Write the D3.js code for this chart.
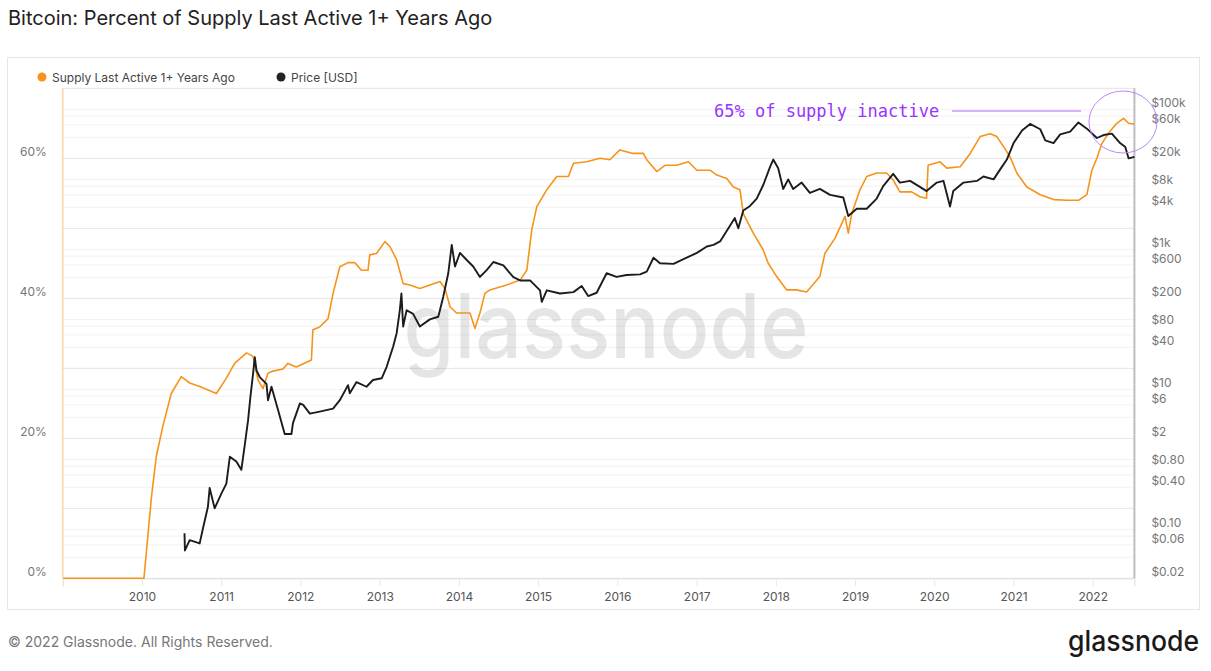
<!DOCTYPE html>
<html>
<head>
<meta charset="utf-8">
<script src="https://cdn.jsdelivr.net/npm/d3@7"></script>
<style>
  body { margin: 0; background: #fff; }
</style>
</head>
<body>
<div id="chart"></div>
<script>
// supply last active 1+ years ago, %
var supply_dates = ["2009-01-03","2010-01-10","2010-02-14","2010-03-08","2010-04-07","2010-05-16","2010-07-01","2010-08-09","2010-09-24","2010-12-10",
  "2011-01-25","2011-03-04","2011-04-28","2011-05-28","2011-06-20","2011-07-13","2011-08-05","2011-08-28","2011-10-13","2011-11-05","2011-12-13",
  "2012-02-21","2012-02-28","2012-03-30","2012-05-08","2012-05-31","2012-07-01","2012-08-08","2012-09-08","2012-10-09","2012-11-08","2012-11-16","2012-12-17",
  "2013-01-25","2013-02-17","2013-03-20","2013-04-19","2013-05-20","2013-07-05","2013-10-06","2013-10-29","2013-11-21","2013-12-21",
  "2014-02-21","2014-03-16","2014-04-08","2014-05-01","2014-05-24","2014-08-09","2014-10-10","2014-11-10","2014-12-03","2014-12-26",
  "2015-02-10","2015-03-28","2015-05-21","2015-06-13","2015-08-13","2015-10-13","2015-11-28",
  "2016-01-13","2016-03-14","2016-04-30","2016-05-16","2016-07-01","2016-08-08","2016-10-01","2016-11-24",
  "2017-01-02","2017-03-04","2017-04-04","2017-05-20","2017-06-19","2017-07-20","2017-08-04","2017-09-19","2017-11-04","2017-11-27",
  "2018-01-05","2018-02-20","2018-04-07","2018-05-23","2018-07-23","2018-08-15","2018-10-01","2018-11-16","2018-12-01","2018-12-17",
  "2019-01-24","2019-02-24","2019-04-11","2019-05-27","2019-06-26","2019-07-27","2019-09-19","2019-10-27","2019-11-27","2019-12-04",
  "2020-01-28","2020-02-28","2020-04-30","2020-06-15","2020-07-31","2020-09-15","2020-10-16","2020-11-15","2020-12-16",
  "2021-01-16","2021-03-03","2021-05-04","2021-07-04","2021-09-04","2021-10-27","2021-12-05","2021-12-28",
  "2022-01-20","2022-02-12","2022-03-15","2022-04-22","2022-05-23","2022-06-15","2022-07-11"];
var supply_values = [0,0,11.7,17.4,21.7,26.4,28.8,27.9,27.4,26.4,
  28.6,30.7,32.2,31.7,28.3,27.1,29.3,29.6,29.9,30.7,30.2,
  31.2,35.5,35.9,37.1,40.7,44.5,45.1,45.1,44.0,44.0,46.2,46.4,
  48.1,47.4,45.5,42.1,41.9,41.4,42.4,41.4,38.8,37.9,
  37.9,35.7,37.9,40.7,41.2,41.9,42.6,44.0,49.8,53.1,
  55.5,57.4,57.4,59.3,59.5,60.0,59.8,
  61.2,60.7,60.7,59.8,58.1,59.0,59.0,59.5,
  58.3,58.3,57.6,57.1,55.9,55.5,52.1,49.3,46.9,45.0,
  43.1,41.2,41.2,40.9,43.1,46.4,48.6,51.7,49.3,52.1,
  55.5,57.4,57.9,57.9,56.9,55.2,55.2,54.5,54.3,59.0,
  59.5,58.6,58.8,60.7,63.1,63.5,63.1,61.7,60.2,
  57.9,55.9,54.8,54.1,54.0,54.0,54.8,58.3,
  60.0,62.1,63.6,65.0,65.7,65.0,64.9];

// price [USD] (log axis)
var price_dates = ["2010-07-16","2010-07-18","2010-08-09","2010-09-24","2010-10-09","2010-11-01","2010-11-09","2010-12-02",
  "2011-01-03","2011-01-25","2011-02-10","2011-03-12","2011-04-04","2011-04-19","2011-05-05","2011-05-16","2011-05-28","2011-06-05","2011-06-13","2011-06-28",
  "2011-07-29","2011-08-05","2011-08-21","2011-09-20","2011-10-21","2011-11-21","2011-11-28","2011-12-30",
  "2012-01-14","2012-02-14","2012-03-30","2012-05-31","2012-07-01","2012-08-08","2012-08-16","2012-09-16","2012-11-01","2012-12-01",
  "2013-01-10","2013-02-02","2013-03-04","2013-03-20","2013-04-04","2013-04-11","2013-04-19","2013-05-05","2013-06-04","2013-07-05",
  "2013-08-20","2013-09-28","2013-10-21","2013-11-13","2013-11-29","2013-12-14",
  "2014-01-06","2014-02-06","2014-03-08","2014-04-08","2014-05-09","2014-06-09","2014-07-25","2014-09-09","2014-10-10","2014-11-25",
  "2015-01-10","2015-01-18","2015-02-10","2015-04-12","2015-06-13","2015-07-21","2015-08-20","2015-09-28","2015-11-13","2015-12-29",
  "2016-02-13","2016-04-15","2016-05-16","2016-06-16","2016-07-16","2016-09-16","2016-11-16",
  "2017-01-02","2017-02-17","2017-03-20","2017-04-19","2017-06-26","2017-07-12","2017-08-04","2017-09-04","2017-10-05","2017-11-04","2017-12-05","2017-12-20",
  "2018-01-12","2018-02-04","2018-02-27","2018-03-22","2018-04-30","2018-06-07","2018-07-23","2018-09-08","2018-11-08","2018-12-01",
  "2019-01-09","2019-02-24","2019-04-11","2019-05-11","2019-06-26","2019-07-27","2019-09-12","2019-10-27","2019-11-27",
  "2020-01-13","2020-02-13","2020-03-14","2020-03-29","2020-05-15","2020-07-16","2020-08-15","2020-10-01","2020-11-01","2020-12-01",
  "2021-01-01","2021-02-09","2021-03-18","2021-05-04","2021-05-27","2021-07-04","2021-08-04","2021-09-19","2021-10-27","2021-12-05",
  "2022-01-20","2022-02-20","2022-03-30","2022-05-07","2022-05-31","2022-06-15","2022-07-12"];
var price_values = [0.088,0.05,0.070,0.063,0.103,0.21,0.39,0.20,
  0.33,0.45,1.09,0.93,0.71,1.53,3.6,7.9,16.6,28.9,18.6,15.0,
  12.0,7.0,10.9,5.1,2.3,2.3,3.3,6.3,
  6.0,4.5,4.8,5.3,7.0,11.5,8.8,12.7,10.9,13.6,
  14.4,21.0,41.0,63.4,138,234,79,135,120,79,
  100,109,211,456,1160,570,
  891,705,570,404,506,660,590,400,360,360,
  260,178,260,234,245,300,215,240,456,404,
  430,440,480,760,635,620,760,
  890,1100,1160,1300,2800,2000,3600,4170,5320,8300,15000,19200,
  14400,7300,10000,7300,9000,6400,7300,6000,5500,3000,
  3800,3800,5320,8000,12000,9000,9500,7800,6800,
  9000,9500,4100,6800,9000,9500,11000,10000,14000,19200,
  33000,50000,62000,52000,36000,33000,44000,48000,65000,53000,
  39000,43000,45000,33000,29000,20000,21000];

var pct_ticks = [0, 20, 40, 60];
var pct_grid = [0, 10, 20, 30, 40, 50, 60, 70];
var price_ticks = [0.02, 0.06, 0.1, 0.4, 0.8, 2, 6, 10, 40, 80, 200, 600, 1000, 4000, 8000, 20000, 60000, 100000];
var price_labels = ["$0.02","$0.06","$0.10","$0.40","$0.80","$2","$6","$10","$40","$80","$200","$600","$1k","$4k","$8k","$20k","$60k","$100k"];
var year_ticks = [2010,2011,2012,2013,2014,2015,2016,2017,2018,2019,2020,2021,2022];

var orange = "#f7931a";
var black = "#1c1c1c";
var width = 1211, height = 671;
var plot_left = 62.8, plot_right = 1134.4, plot_top = 88.3, plot_bottom = 578.3;
var sans = "Inter, 'Noto Sans', sans-serif";

var parse = d3.timeParse("%Y-%m-%d");
var supply = supply_dates.map(function (d, i) { return { date: parse(d), value: supply_values[i] }; });
var price = price_dates.map(function (d, i) { return { date: parse(d), value: price_values[i] }; });

var x = d3.scaleTime().domain([new Date(2009, 0, 1), new Date(2022, 6, 12)]).range([plot_left, plot_right]);
var yPct = d3.scaleLinear().domain([0, 70]).range([plot_bottom, plot_top]);
var yPrice = d3.scaleLog().domain([0.02, 200000]).range([plot_bottom, plot_top]);

var svg = d3.select("#chart").append("svg")
    .attr("width", width)
    .attr("height", height)
    .attr("font-family", sans);

svg.append("rect").attr("width", width).attr("height", height).attr("fill", "#fff");

svg.append("text")
    .attr("x", 8).attr("y", 25)
    .attr("font-size", 20).attr("fill", "#222")
    .text("Bitcoin: Percent of Supply Last Active 1+ Years Ago");

// card
svg.append("rect")
    .attr("x", 7.5).attr("y", 57.5).attr("width", 1192).attr("height", 552)
    .attr("fill", "#fff").attr("stroke", "#e6e6e6");

// legend
var legend = [{ name: "Supply Last Active 1+ Years Ago", color: orange, x: 42 },
              { name: "Price [USD]", color: "#222", x: 281 }];
var lg = svg.selectAll(".legend").data(legend).enter().append("g").attr("class", "legend");
lg.append("circle").attr("cx", function (d) { return d.x; }).attr("cy", 77).attr("r", 4.5).attr("fill", function (d) { return d.color; });
lg.append("text").attr("x", function (d) { return d.x + 10; }).attr("y", 81.5)
    .attr("font-size", 12).attr("fill", "#444").text(function (d) { return d.name; });

// gridlines (left axis every 10%, price axis 1-2-4-6-8)
var price_grid = [];
d3.range(-2, 6).forEach(function (e) {
  [1, 2, 4, 6, 8].forEach(function (m) {
    var v = m * Math.pow(10, e);
    if (v >= 0.02 && v <= 200000) price_grid.push(v);
  });
});
var grid = svg.append("g").attr("stroke", "#000").attr("stroke-opacity", 0.055);
grid.selectAll(".gp").data(pct_grid).enter().append("line")
    .attr("x1", plot_left).attr("x2", plot_right)
    .attr("y1", function (d) { return yPct(d); }).attr("y2", function (d) { return yPct(d); });
grid.selectAll(".gl").data(price_grid).enter().append("line")
    .attr("x1", plot_left).attr("x2", plot_right)
    .attr("y1", function (d) { return yPrice(d); }).attr("y2", function (d) { return yPrice(d); });

// watermark
svg.append("text")
    .attr("x", 606).attr("y", 358)
    .attr("text-anchor", "middle")
    .attr("font-size", 90).attr("font-weight", 500)
    .attr("textLength", 405).attr("lengthAdjust", "spacingAndGlyphs")
    .attr("fill", "#000").attr("fill-opacity", 0.1)
    .text("glassnode");

// x axis
var xAxis = svg.append("g").attr("transform", "translate(0," + plot_bottom + ")")
    .call(d3.axisBottom(x)
      .tickValues(year_ticks.map(function (y) { return new Date(y, 0, 1); }))
      .tickFormat(d3.timeFormat("%Y"))
      .tickSize(8).tickPadding(6));
xAxis.select(".domain").attr("stroke", "#ddd");
xAxis.selectAll(".tick line").attr("stroke", "#e8e8e8");
xAxis.selectAll(".tick text").attr("font-size", 12).attr("fill", "#555").attr("font-family", sans);

// left axis
var yl = svg.append("g").attr("transform", "translate(" + plot_left + ",0)")
    .call(d3.axisLeft(yPct).tickValues(pct_ticks).tickFormat(function (d) { return d + "%"; }).tickSize(0).tickPadding(16));
yl.select(".domain").remove();
yl.selectAll(".tick text").attr("font-size", 12).attr("fill", "#777").attr("dy", "-0.2em").attr("font-family", sans);
svg.append("line").attr("x1", plot_left).attr("x2", plot_left).attr("y1", plot_top).attr("y2", plot_bottom)
    .attr("stroke", orange).attr("stroke-opacity", 0.3).attr("stroke-width", 2);

// right axis
var yr = svg.append("g").attr("transform", "translate(" + plot_right + ",0)")
    .call(d3.axisRight(yPrice).tickValues(price_ticks)
      .tickFormat(function (d, i) { return price_labels[i]; }).tickSize(0).tickPadding(17));
yr.select(".domain").remove();
yr.selectAll(".tick text").attr("font-size", 12).attr("fill", "#777").attr("dy", "-0.22em").attr("font-family", sans);
svg.append("line").attr("x1", plot_right).attr("x2", plot_right).attr("y1", plot_top).attr("y2", plot_bottom)
    .attr("stroke", "#bdbdbd").attr("stroke-width", 2);

// series
var supplyLine = d3.line().x(function (d) { return x(d.date); }).y(function (d) { return yPct(d.value); });
var priceLine = d3.line().x(function (d) { return x(d.date); }).y(function (d) { return yPrice(d.value); });

svg.append("path").datum(supply)
    .attr("d", supplyLine).attr("fill", "none")
    .attr("stroke", orange).attr("stroke-width", 1.6).attr("stroke-linejoin", "round");
svg.append("path").datum(price)
    .attr("d", priceLine).attr("fill", "none")
    .attr("stroke", black).attr("stroke-width", 1.9).attr("stroke-linejoin", "round");

// annotation
svg.append("text")
    .attr("x", 714).attr("y", 116.5)
    .attr("font-family", "'DejaVu Sans Mono', 'Liberation Mono', monospace")
    .attr("font-size", 17).attr("fill", "#9933ff")
    .text("65% of supply inactive");
svg.append("line").attr("x1", 952).attr("x2", 1081).attr("y1", 111).attr("y2", 111)
    .attr("stroke", "#a764f7").attr("stroke-width", 1);
svg.append("ellipse").attr("cx", 1123).attr("cy", 122).attr("rx", 34).attr("ry", 31)
    .attr("fill", "none").attr("stroke", "#b88af5").attr("stroke-width", 1);

// footer
svg.append("text")
    .attr("x", 8).attr("y", 647)
    .attr("font-size", 14).attr("fill", "#777")
    .text("\u00a9 2022 Glassnode. All Rights Reserved.");
svg.append("text")
    .attr("x", 1068).attr("y", 651)
    .attr("font-size", 28).attr("font-weight", 500).attr("fill", "#1a1a1a")
    .attr("textLength", 131).attr("lengthAdjust", "spacingAndGlyphs")
    .text("glassnode");
</script>
</body>
</html>
